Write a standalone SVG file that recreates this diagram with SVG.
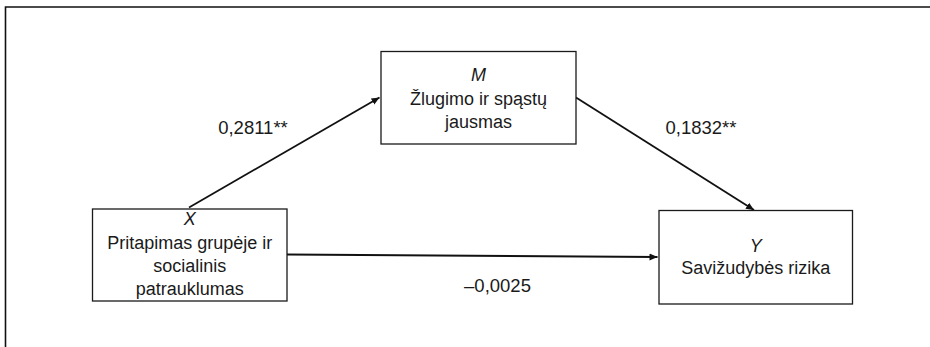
<svg xmlns="http://www.w3.org/2000/svg" width="930" height="347" viewBox="0 0 930 347">
<style>
.box{fill:#fff;stroke:#1a1a1a;stroke-width:1.3}
.t{font-family:"Liberation Sans",Arial,sans-serif;font-size:18px;fill:#1a1a1a;text-anchor:middle}
.v{font-style:italic}
.lbl{font-family:"Liberation Sans",Arial,sans-serif;font-size:18.5px;fill:#1a1a1a;text-anchor:middle}
.edge{stroke:#111;stroke-width:1.8;fill:none;marker-end:url(#ah)}
.frame{stroke:#111;stroke-width:1.6;fill:none}
</style>
<defs>
<marker id="ah" markerUnits="userSpaceOnUse" markerWidth="9" markerHeight="8" refX="8" refY="4" orient="auto">
<path d="M0,0.5 L8,4 L0,7.5 Z" fill="#111"/>
</marker>
</defs>
<rect width="930" height="347" fill="#fff"/>
<path class="frame" d="M5.5,347 L5.5,7 L930,7"/>
<g id="connectors">
<line class="edge" x1="189" y1="207.5" x2="379.5" y2="97.5"/>
<line class="edge" x1="576" y1="97.5" x2="754" y2="210"/>
<line class="edge" x1="287" y1="254.5" x2="657.5" y2="257"/>
<text class="lbl" x="253" y="134">0,2811**</text>
<text class="lbl" x="701" y="134">0,1832**</text>
<text class="lbl" x="497.5" y="292">–0,0025</text>
</g>
<g id="node-M">
<rect class="box" x="381" y="51.5" width="195" height="92.5"/>
<text class="t v" x="478.5" y="81">M</text>
<text class="t" x="478.5" y="104.5">Žlugimo ir spąstų</text>
<text class="t" x="478.5" y="127.5">jausmas</text>
</g>
<g id="node-X">
<rect class="box" x="92.5" y="209" width="194.5" height="92"/>
<text class="t v" x="189.7" y="225">X</text>
<text class="t" x="189.7" y="248.5">Pritapimas grupėje ir</text>
<text class="t" x="189.7" y="272">socialinis</text>
<text class="t" x="189.7" y="295">patrauklumas</text>
</g>
<g id="node-Y">
<rect class="box" x="659" y="210.5" width="193.5" height="93.5"/>
<text class="t v" x="755.7" y="251.5">Y</text>
<text class="t" x="755.7" y="274">Savižudybės rizika</text>
</g>
</svg>
